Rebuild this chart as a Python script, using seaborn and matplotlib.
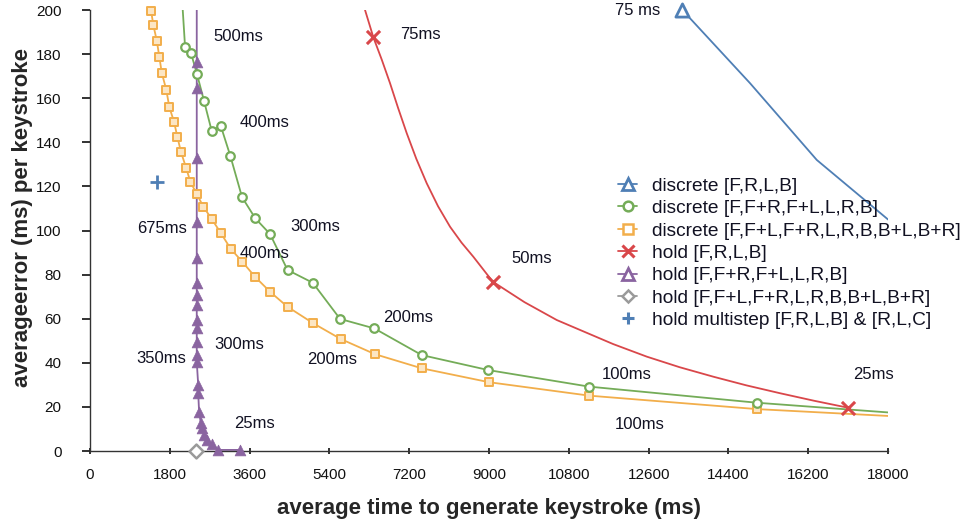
import numpy as np
import pandas as pd
import matplotlib
matplotlib.use('Agg')
import matplotlib.pyplot as plt
from matplotlib.lines import Line2D
import seaborn as sns

# ---- data ----
# discrete [F,R,L,B]  (only the 75 ms point is inside the axes)
blue_x = [13361]
blue_y = [200]
blue_line_x = [13361, 14888, 16393, 18000]
blue_line_y = [200, 166.8, 132, 105]

# discrete [F,F+R,F+L,L,R,B]
green_x = [2143, 2278, 2414, 2572, 2745, 2948, 3165, 3429, 3729, 4060, 4455,
           5024, 5640, 6413, 7483, 8985, 11257, 15040]
green_y = [183.4, 180.4, 170.8, 158.7, 145.1, 147.5, 133.8, 115.1, 105.5, 98.4,
           82.1, 76.3, 59.9, 55.6, 43.5, 36.7, 29.2, 21.9]
green_start = (2091, 200)
green_end = (18000, 17.5)

# discrete [F,F+L,F+R,L,R,B,B+L,B+R]
orange_x = [1376, 1428, 1505, 1563, 1617, 1721, 1789, 1895, 1969, 2053, 2166,
            2263, 2407, 2556, 2752, 2955, 3169, 3436, 3722, 4067, 4455, 5037,
            5655, 6429, 7483, 9001, 11263, 15046]
orange_y = [199.7, 193.2, 186.1, 178.8, 171.6, 163.7, 155.9, 149.3, 142.5, 135.5,
            128.5, 122.1, 116.6, 110.8, 105.0, 98.7, 91.8, 85.8, 79.0, 72.1, 65.4,
            57.9, 50.8, 43.9, 37.5, 31.2, 25.1, 19.0]
orange_end = (18000, 15.9)

# hold [F,R,L,B]
red_x = [6391, 9084, 17106]
red_y = [187.6, 76.8, 19.6]
red_line_x = [6203, 6391, 6580, 6767, 6950, 7144, 7360, 7595, 7850, 8121, 8380,
              8646, 9084, 9800, 10528, 11053, 11800, 12558, 13300, 14060, 14800,
              15565, 16330, 17106]
red_line_y = [200, 187.6, 177.5, 166.8, 155.5, 144.1, 132.5, 121.4, 111.0, 101.7,
              94.5, 88.1, 76.8, 67.5, 59.4, 54.9, 48.5, 42.8, 38.0, 33.7, 29.8,
              26.2, 22.8, 19.6]

# hold [F,F+R,F+L,L,R,B]
purple_x = [2407, 2407, 2407, 2407, 2407, 2407, 2407, 2407, 2407, 2407, 2407,
            2407, 2407, 2440, 2440, 2460, 2497, 2533, 2578, 2646, 2745, 2894, 3384]
purple_y = [176.6, 164.5, 132.7, 104.0, 87.4, 76.1, 70.7, 66.2, 59.4, 55.6, 49.6,
            43.5, 40.5, 29.9, 26.1, 17.8, 12.8, 10.3, 7.3, 5.0, 3.2, 0.5, 0.5]
purple_start = (2407, 200)

# hold [F,F+L,F+R,L,R,B,B+L,B+R]
gray_x = [2390]
gray_y = [0]

# hold multistep [F,R,L,B] & [R,L,C]
plus_x = [1518]
plus_y = [122.1]

# annotations: text, x, y (left edge, vertical centre)
ann_text = ['75 ms', '500ms', '400ms', '300ms', '675ms', '400ms', '300ms', '350ms',
            '25ms', '200ms', '200ms', '100ms', '100ms', '75ms', '50ms', '25ms']
ann_x = [11843, 2775, 3384, 4512, 1053, 3384, 2797, 1053,
         3248, 4888, 6602, 11543, 11843, 6993, 9512, 17219]
ann_y = [200, 187.8, 149.2, 101.6, 101, 89.7, 48.1, 42,
         12.6, 41.7, 60.6, 34.9, 11.8, 188.7, 87.4, 34.9]

labels = ['discrete [F,R,L,B]', 'discrete [F,F+R,F+L,L,R,B]',
          'discrete [F,F+L,F+R,L,R,B,B+L,B+R]', 'hold [F,R,L,B]',
          'hold [F,F+R,F+L,L,R,B]', 'hold [F,F+L,F+R,L,R,B,B+L,B+R]',
          'hold multistep [F,R,L,B] & [R,L,C]']

BLUE = '#4F7FB5'
GREEN = '#74AC58'
ORANGE = '#F2AE4B'
RED = '#D9474A'
PURPLE = '#8A64A0'
GRAY = '#9A9A9A'

sns.set_style('ticks')
plt.rcParams['font.family'] = ['Liberation Sans', 'DejaVu Sans']
plt.rcParams.update({
    'xtick.bottom': True, 'ytick.left': True,
    'xtick.major.size': 5, 'ytick.major.size': 6,
    'xtick.major.width': 1.3, 'ytick.major.width': 1.3,
    'xtick.color': '#222222', 'ytick.color': '#222222',
})

fig, ax = plt.subplots(figsize=(9.62, 5.22), dpi=100)
fig.subplots_adjust(left=0.0936, right=0.9231, top=0.9808, bottom=0.136)

lw = 1.3
# lines
sns.lineplot(x=blue_line_x, y=blue_line_y, sort=False, estimator=None,
             color=BLUE, lw=lw, ax=ax)
sns.lineplot(x=[green_start[0]] + green_x + [green_end[0]],
             y=[green_start[1]] + green_y + [green_end[1]],
             sort=False, estimator=None, color=GREEN, lw=lw, ax=ax)
sns.lineplot(x=orange_x + [orange_end[0]], y=orange_y + [orange_end[1]],
             sort=False, estimator=None, color=ORANGE, lw=lw, ax=ax)
sns.lineplot(x=red_line_x, y=red_line_y, sort=False, estimator=None,
             color=RED, lw=lw, ax=ax)
sns.lineplot(x=[purple_start[0]] + purple_x, y=[purple_start[1]] + purple_y,
             sort=False, estimator=None, color=PURPLE, lw=lw, ax=ax)

# markers
kw = dict(ax=ax, clip_on=False, zorder=5, legend=False)
sns.scatterplot(x=orange_x, y=orange_y, marker='s', s=30, facecolor='#FCE6C4',
                edgecolor=ORANGE, linewidth=1.4, **kw)
sns.scatterplot(x=green_x, y=green_y, marker='o', s=38, facecolor='white',
                edgecolor=GREEN, linewidth=1.6, **kw)
sns.scatterplot(x=purple_x, y=purple_y, marker='^', s=60, color=PURPLE,
                edgecolor=PURPLE, linewidth=0.5, **kw)
sns.scatterplot(x=blue_x, y=blue_y, marker='^', s=90, facecolor='white',
                edgecolor=BLUE, linewidth=2.0, **kw)
sns.scatterplot(x=red_x, y=red_y, marker='x', s=90, color=RED, linewidth=2.2, **kw)
sns.scatterplot(x=gray_x, y=gray_y, marker='D', s=50, facecolor='white',
                edgecolor=GRAY, linewidth=1.8, **kw)
sns.scatterplot(x=plus_x, y=plus_y, marker='+', s=90, color=BLUE, linewidth=2.0, **kw)

for t, x, y in zip(ann_text, ann_x, ann_y):
    ax.text(x, y, t, fontsize=12, ha='left', va='center', color='#111122',
            clip_on=False)

ax.set_xlim(0, 18000)
ax.set_ylim(0, 200)
ax.set_xticks(np.arange(0, 18001, 1800))
ax.set_yticks(np.arange(0, 201, 20))
sns.despine(ax=ax)
for s in ['left', 'bottom']:
    ax.spines[s].set_color('#333333')
    ax.spines[s].set_linewidth(1.0)
ax.tick_params(axis='y', direction='out', labelcolor='#111111', pad=14.5,
               labelsize=11)
ax.tick_params(axis='x', direction='inout', labelcolor='#111111', pad=9.5,
               labelsize=11)

ax.set_xlabel('average time to generate keystroke (ms)', fontsize=16,
              fontweight='bold', va='top')
ax.xaxis.set_label_coords(0.5, -0.106)
ax.set_ylabel('averageerror (ms) per keystroke', fontsize=16, fontweight='bold')
ax.yaxis.set_label_coords(-0.0714, 0.529)

handles = [
    Line2D([], [], color=BLUE, marker='^', mfc='white', mec=BLUE, mew=2, ms=9, lw=1.3),
    Line2D([], [], color=GREEN, marker='o', mfc='white', mec=GREEN, mew=1.8, ms=7, lw=1.3),
    Line2D([], [], color=ORANGE, marker='s', mfc='white', mec=ORANGE, mew=1.8, ms=7, lw=1.3),
    Line2D([], [], color=RED, marker='x', mec=RED, mew=2.2, ms=8, lw=1.3),
    Line2D([], [], color=PURPLE, marker='^', mfc='white', mec=PURPLE, mew=2, ms=8, lw=1.3),
    Line2D([], [], color=GRAY, marker='D', mfc='white', mec=GRAY, mew=1.8, ms=6, lw=1.3),
    Line2D([], [], color=BLUE, marker='+', mec=BLUE, mew=2.2, ms=9, lw=0),
]
leg = ax.legend(handles, labels, loc='upper left', bbox_to_anchor=(0.652, 0.638),
                frameon=False, fontsize=13.8, handlelength=1.0, handletextpad=0.8,
                labelspacing=0.26, borderaxespad=0)
for t in leg.get_texts():
    t.set_color('#111122')

plt.savefig('out.png', dpi=100)
